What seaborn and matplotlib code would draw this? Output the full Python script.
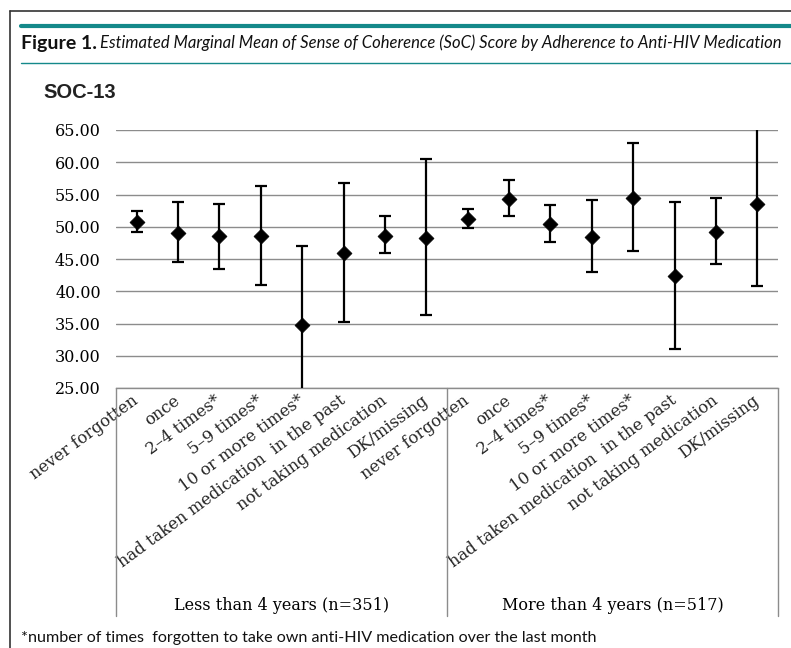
import matplotlib
matplotlib.use("Agg")
import matplotlib.pyplot as plt
import numpy as np
import pandas as pd
import seaborn as sns
from matplotlib.lines import Line2D
from matplotlib.transforms import ScaledTranslation

categories = [
    "never forgotten",
    "once",
    "2\u20134 times*",
    "5\u20139 times*",
    "10 or more times*",
    "had taken medication  in the past",
    "not taking medication",
    "DK/missing",
]
groups = ["Less than 4 years (n=351)", "More than 4 years (n=517)"]

mean_less = [50.8, 49.0, 48.6, 48.6, 34.7, 45.9, 48.6, 48.2]
lower_less = [49.2, 44.5, 43.5, 41.0, 22.4, 35.2, 45.9, 36.3]
upper_less = [52.5, 53.9, 53.6, 56.3, 47.0, 56.8, 51.7, 60.5]

mean_more = [51.2, 54.3, 50.4, 48.4, 54.5, 42.4, 49.2, 53.5]
lower_more = [49.8, 51.7, 47.6, 43.0, 46.3, 31.1, 44.3, 40.8]
upper_more = [52.7, 57.2, 53.4, 54.2, 63.0, 53.9, 54.4, 66.1]

yticks = [25, 30, 35, 40, 45, 50, 55, 60, 65]

TEAL = "#14898a"
GRID = "#8c8c8c"
SERIF = "DejaVu Serif"


def main() -> None:
    df = pd.DataFrame({
        "group": np.repeat(groups, len(categories)),
        "category": categories * 2,
        "mean": mean_less + mean_more,
        "lower": lower_less + lower_more,
        "upper": upper_less + upper_more,
    })
    df["pos"] = np.arange(len(df))

    sns.set_theme(style="white")
    fig = plt.figure(figsize=(7.91, 6.48), dpi=100)
    W, H = 791, 648
    ax = fig.add_axes([116 / W, 1 - 388 / H, 662 / W, 258 / H])

    ax.errorbar(
        df["pos"], df["mean"],
        yerr=[df["mean"] - df["lower"], df["upper"] - df["mean"]],
        fmt="none", ecolor="black", elinewidth=1.6, capsize=4, capthick=1.6, zorder=3,
    )
    sns.scatterplot(
        data=df, x="pos", y="mean", marker="D", s=58, color="black",
        edgecolor="black", linewidth=0.5, zorder=4, ax=ax, legend=False,
    )

    ax.set_xlim(-0.5, len(df) - 0.5)
    ax.set_ylim(25, 65)
    ax.set_yticks(yticks)
    ax.set_yticklabels([f"{v:.2f}" for v in yticks], fontfamily=SERIF, fontsize=11.5)
    ax.yaxis.grid(True, color=GRID, lw=1)
    ax.xaxis.grid(False)
    ax.set_xlabel("")
    ax.set_ylabel("")
    for side in ["left", "right", "top"]:
        ax.spines[side].set_visible(False)
    ax.spines["bottom"].set_color(GRID)
    ax.spines["bottom"].set_linewidth(1)
    ax.tick_params(axis="y", length=0, pad=11, colors="black")
    ax.tick_params(axis="x", length=0, pad=3)

    ax.set_xticks(df["pos"])
    ax.set_xticklabels(df["category"], rotation=36.5, ha="right", va="top",
                       rotation_mode="anchor", fontfamily=SERIF, fontsize=11.8)
    shift = ScaledTranslation(-5 / 100, 0, fig.dpi_scale_trans)
    for lbl in ax.get_xticklabels():
        lbl.set_transform(lbl.get_transform() + shift)

    # multi-level category box
    xt = ax.get_xaxis_transform()
    box_depth = (616 - 388) / 258
    for x in [-0.5, 7.5, 15.5]:
        ax.plot([x, x], [0, -box_depth], transform=xt, clip_on=False, color=GRID, lw=1)
    for i, g in enumerate(groups):
        ax.text(3.5 + 8 * i, -(605 - 388) / 258, g, transform=xt, ha="center", va="center",
                fontfamily=SERIF, fontsize=11.5, color="black")

    # page decoration
    fig.add_artist(Line2D([10 / W, 10 / W], [0, 1 - 11 / H], transform=fig.transFigure,
                          color="#333333", lw=1.2))
    fig.add_artist(Line2D([10 / W, 1], [1 - 11 / H, 1 - 11 / H], transform=fig.transFigure,
                          color="#333333", lw=1.2))
    fig.add_artist(Line2D([21 / W, 1], [1 - 26 / H, 1 - 26 / H], transform=fig.transFigure,
                          color=TEAL, lw=3))
    fig.add_artist(Line2D([21 / W, 1], [1 - 63 / H, 1 - 63 / H], transform=fig.transFigure,
                          color=TEAL, lw=1))

    fig.text(21 / W, 1 - 43 / H, "Figure 1.", fontfamily="Lato", fontweight="bold",
             fontsize=14, va="center", color="#111111")
    fig.text(100 / W, 1 - 43 / H,
             "Estimated Marginal Mean of Sense of Coherence (SoC) Score by Adherence to Anti-HIV Medication",
             fontfamily="Lato", fontstyle="italic", fontsize=12.0, va="center", color="#111111")
    fig.text(43 / W, 1 - 92 / H, "SOC-13", fontfamily="Liberation Sans", fontweight="bold",
             fontsize=14.5, va="center", color="#222222")
    fig.text(21 / W, 1 - 638 / H,
             "*number of times  forgotten to take own anti-HIV medication over the last month",
             fontfamily="Lato", fontsize=11.6, va="center", color="#111111")

    fig.savefig("out.png", dpi=100)
    plt.close(fig)


if __name__ == "__main__":
    main()
